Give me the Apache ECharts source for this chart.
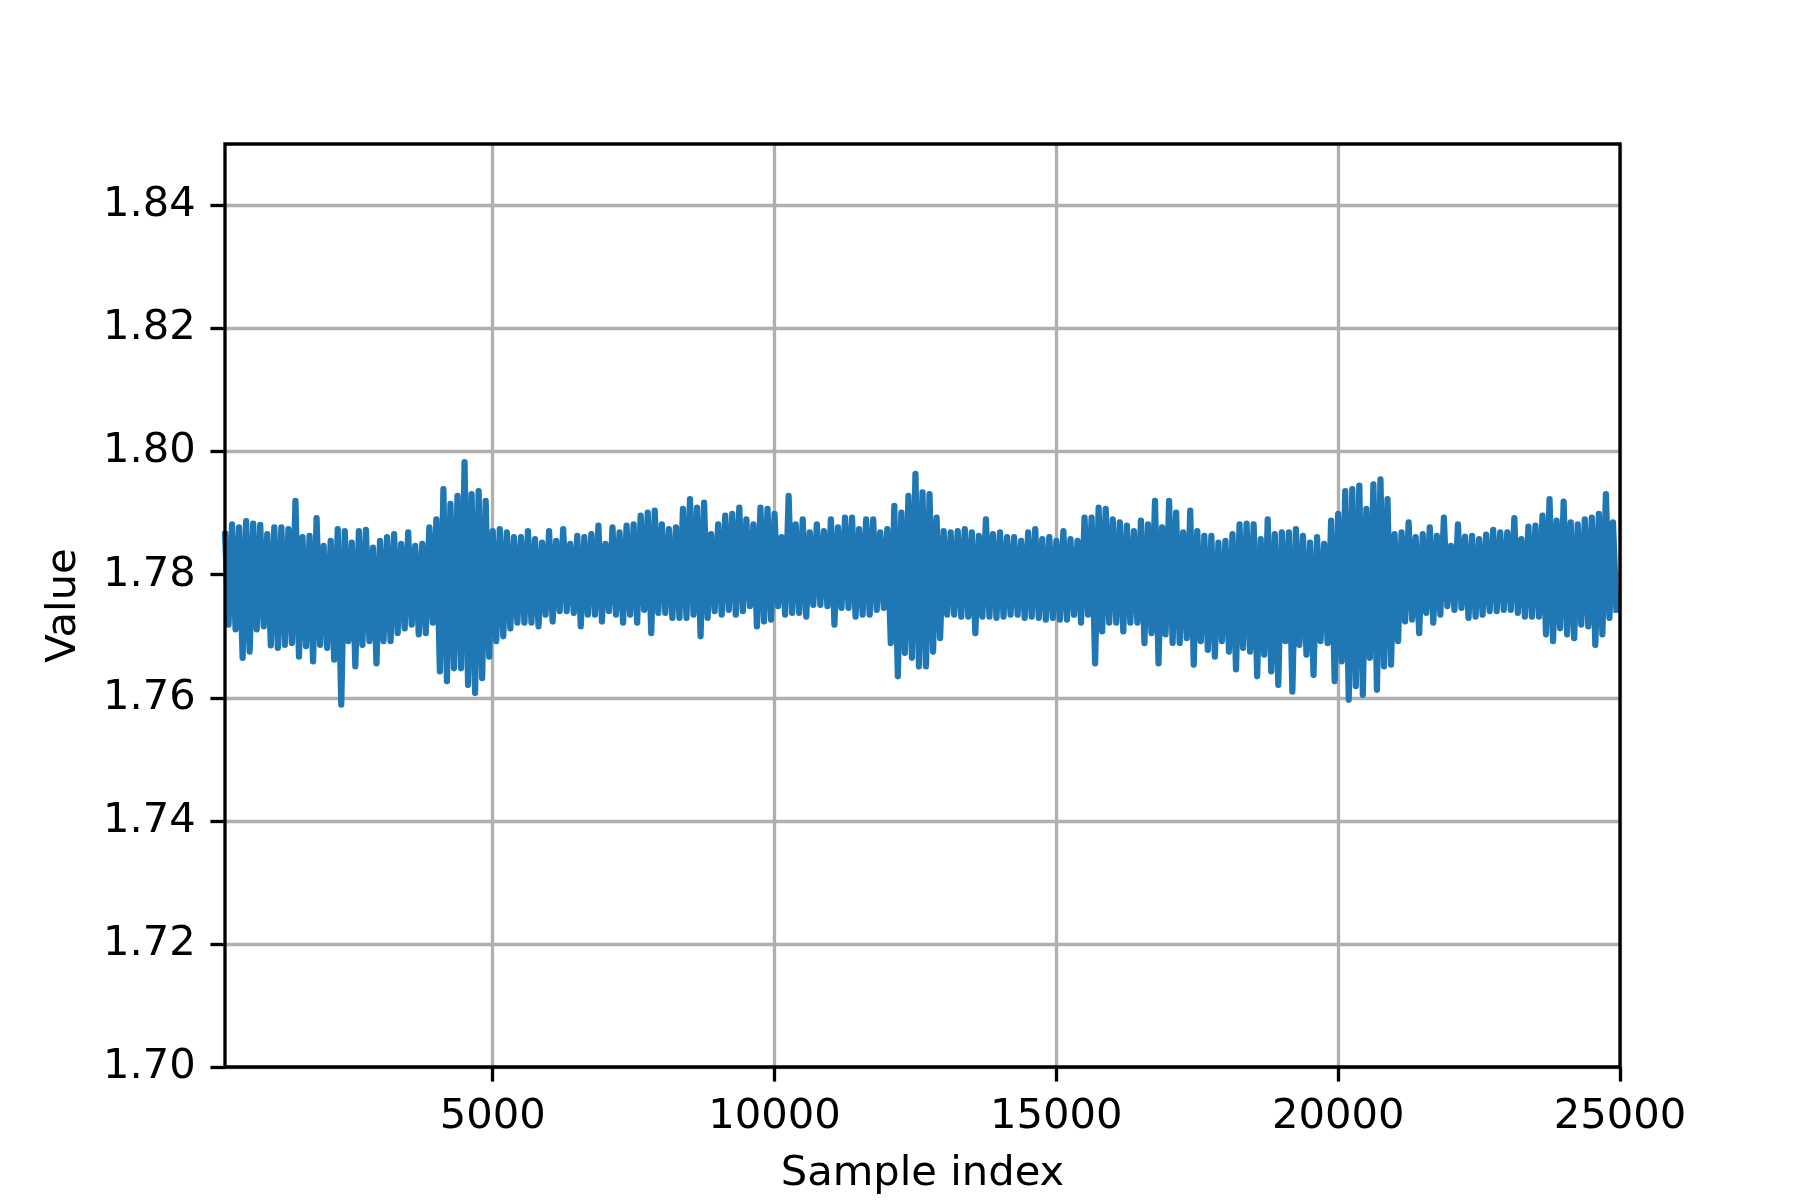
<!DOCTYPE html>
<html>
<head>
<meta charset="utf-8">
<title>Value vs sample index</title>
<script src="https://cdn.jsdelivr.net/npm/echarts@6/dist/echarts.min.js"></script>
<style>
  html, body { margin: 0; padding: 0; background: #fff; }
  #chart { width: 1800px; height: 1200px; }
</style>
</head>
<body>
<div id="chart"></div>
<script>
// tick labels
const xTicks = [5000, 10000, 15000, 20000, 25000];
const yTicks = [1.70, 1.72, 1.74, 1.76, 1.78, 1.80, 1.82, 1.84];

// signal: highest and lowest value in each block of
// 125 samples, first block starting at sample 250
const blockStart = 250;
const blockSize = 125;
const blockHi = [
  1.7871, 1.7882, 1.7877, 1.7887, 1.7883, 1.7881, 1.7866, 1.7877, 1.7877, 1.7874,
  1.7920, 1.7861, 1.7863, 1.7892, 1.7847, 1.7855, 1.7874, 1.7871, 1.7852, 1.7871,
  1.7873, 1.7844, 1.7855, 1.7861, 1.7866, 1.7850, 1.7869, 1.7847, 1.7850, 1.7877,
  1.7890, 1.7939, 1.7915, 1.7928, 1.7983, 1.7931, 1.7936, 1.7920, 1.7871, 1.7874,
  1.7869, 1.7861, 1.7861, 1.7871, 1.7858, 1.7852, 1.7871, 1.7855, 1.7874, 1.7850,
  1.7863, 1.7861, 1.7866, 1.7880, 1.7850, 1.7877, 1.7869, 1.7880, 1.7882, 1.7896,
  1.7901, 1.7904, 1.7882, 1.7874, 1.7877, 1.7907, 1.7923, 1.7909, 1.7917, 1.7866,
  1.7882, 1.7896, 1.7899, 1.7909, 1.7890, 1.7882, 1.7909, 1.7907, 1.7899, 1.7861,
  1.7928, 1.7882, 1.7890, 1.7869, 1.7882, 1.7871, 1.7890, 1.7877, 1.7893, 1.7893,
  1.7874, 1.7890, 1.7890, 1.7869, 1.7874, 1.7912, 1.7901, 1.7928, 1.7964, 1.7934,
  1.7931, 1.7893, 1.7871, 1.7869, 1.7871, 1.7874, 1.7869, 1.7863, 1.7890, 1.7866,
  1.7869, 1.7861, 1.7861, 1.7855, 1.7869, 1.7874, 1.7858, 1.7861, 1.7855, 1.7871,
  1.7858, 1.7855, 1.7893, 1.7893, 1.7909, 1.7907, 1.7890, 1.7885, 1.7880, 1.7871,
  1.7888, 1.7882, 1.7920, 1.7877, 1.7920, 1.7901, 1.7869, 1.7904, 1.7871, 1.7863,
  1.7863, 1.7852, 1.7855, 1.7866, 1.7882, 1.7883, 1.7882, 1.7858, 1.7890, 1.7866,
  1.7869, 1.7869, 1.7874, 1.7863, 1.7852, 1.7861, 1.7850, 1.7888, 1.7899, 1.7936,
  1.7939, 1.7945, 1.7907, 1.7947, 1.7955, 1.7923, 1.7866, 1.7869, 1.7885, 1.7861,
  1.7866, 1.7877, 1.7863, 1.7893, 1.7847, 1.7882, 1.7862, 1.7863, 1.7858, 1.7865,
  1.7873, 1.7869, 1.7869, 1.7892, 1.7858, 1.7878, 1.7880, 1.7896, 1.7923, 1.7888,
  1.7919, 1.7885, 1.7882, 1.7890, 1.7893, 1.7899, 1.7931, 1.7885
];
const blockLo = [
  1.7719, 1.7711, 1.7665, 1.7675, 1.7711, 1.7716, 1.7685, 1.7681, 1.7686, 1.7689,
  1.7667, 1.7684, 1.7659, 1.7686, 1.7681, 1.7662, 1.7589, 1.7692, 1.7651, 1.7686,
  1.7692, 1.7656, 1.7692, 1.7692, 1.7705, 1.7713, 1.7719, 1.7703, 1.7705, 1.7722,
  1.7643, 1.7627, 1.7648, 1.7648, 1.7621, 1.7608, 1.7632, 1.7667, 1.7692, 1.7700,
  1.7713, 1.7722, 1.7722, 1.7722, 1.7716, 1.7735, 1.7724, 1.7741, 1.7741, 1.7738,
  1.7716, 1.7735, 1.7735, 1.7724, 1.7741, 1.7735, 1.7722, 1.7735, 1.7722, 1.7743,
  1.7705, 1.7738, 1.7738, 1.7730, 1.7730, 1.7730, 1.7735, 1.7700, 1.7730, 1.7741,
  1.7735, 1.7743, 1.7735, 1.7741, 1.7749, 1.7716, 1.7724, 1.7727, 1.7749, 1.7735,
  1.7738, 1.7738, 1.7732, 1.7751, 1.7751, 1.7749, 1.7719, 1.7746, 1.7746, 1.7732,
  1.7735, 1.7735, 1.7743, 1.7746, 1.7689, 1.7635, 1.7673, 1.7665, 1.7651, 1.7651,
  1.7675, 1.7697, 1.7735, 1.7735, 1.7732, 1.7732, 1.7705, 1.7732, 1.7732, 1.7730,
  1.7732, 1.7735, 1.7735, 1.7730, 1.7732, 1.7730, 1.7727, 1.7730, 1.7727, 1.7727,
  1.7735, 1.7722, 1.7735, 1.7656, 1.7708, 1.7722, 1.7722, 1.7708, 1.7722, 1.7722,
  1.7689, 1.7705, 1.7656, 1.7703, 1.7689, 1.7689, 1.7697, 1.7654, 1.7692, 1.7678,
  1.7667, 1.7692, 1.7675, 1.7646, 1.7681, 1.7675, 1.7635, 1.7670, 1.7643, 1.7621,
  1.7692, 1.7610, 1.7686, 1.7670, 1.7637, 1.7692, 1.7689, 1.7627, 1.7659, 1.7597,
  1.7619, 1.7605, 1.7665, 1.7613, 1.7651, 1.7654, 1.7692, 1.7724, 1.7727, 1.7705,
  1.7738, 1.7722, 1.7735, 1.7749, 1.7743, 1.7746, 1.7730, 1.7732, 1.7735, 1.7741,
  1.7741, 1.7743, 1.7743, 1.7738, 1.7732, 1.7732, 1.7732, 1.7703, 1.7692, 1.7713,
  1.7703, 1.7697, 1.7719, 1.7716, 1.7686, 1.7703, 1.7730, 1.7738
];

const BLUE = '#1f77b4';
const FONT = 'DejaVu Sans';
const PT = 300 / 72;   // figure is 6x4 in at 300 dpi

// one up and one down stroke per block
const signal = [];
blockHi.forEach((hi, i) => {
  const s = blockStart + i * blockSize;
  signal.push([s, hi]);
  signal.push([s + blockSize / 2, blockLo[i]]);
});

const chart = echarts.init(document.getElementById('chart'));

const tickStyle = { show: true, inside: false, length: 3.5 * PT, lineStyle: { color: '#000', width: 0.8 * PT } };
const gridLine = { show: true, lineStyle: { color: '#b0b0b0', width: 0.8 * PT } };
const labelFont = { fontFamily: FONT, fontSize: 10 * PT, color: '#000' };

const option = {
  animation: false,
  backgroundColor: '#fff',
  grid: {
    left: 225, right: 180, top: 144, bottom: 132,
    show: true, z: 10,
    backgroundColor: 'transparent',
    borderColor: '#000', borderWidth: 0.8 * PT
  },
  xAxis: {
    type: 'value',
    min: 250, max: 25000,
    name: 'Sample index',
    nameLocation: 'middle',
    nameGap: 86,
    nameTextStyle: labelFont,
    axisLine: { show: false },
    axisTick: Object.assign({ customValues: xTicks }, tickStyle),
    axisLabel: Object.assign({ customValues: xTicks, margin: 7 * PT, formatter: (v) => String(v) }, labelFont),
    splitLine: gridLine
  },
  yAxis: {
    type: 'value',
    min: 1.70, max: 1.85,
    name: 'Value',
    nameLocation: 'middle',
    nameGap: 140,
    nameTextStyle: labelFont,
    axisLine: { show: false },
    axisTick: Object.assign({ customValues: yTicks }, tickStyle),
    axisLabel: Object.assign({ customValues: yTicks, margin: 7 * PT, formatter: (v) => v.toFixed(2) }, labelFont),
    splitLine: gridLine
  },
  series: [
    {
      type: 'line', name: 'signal',
      data: signal, symbol: 'none', silent: true,
      lineStyle: { color: BLUE, width: 1.5 * PT, join: 'round' }
    }
  ]
};
chart.setOption(option);
</script>
</body>
</html>
